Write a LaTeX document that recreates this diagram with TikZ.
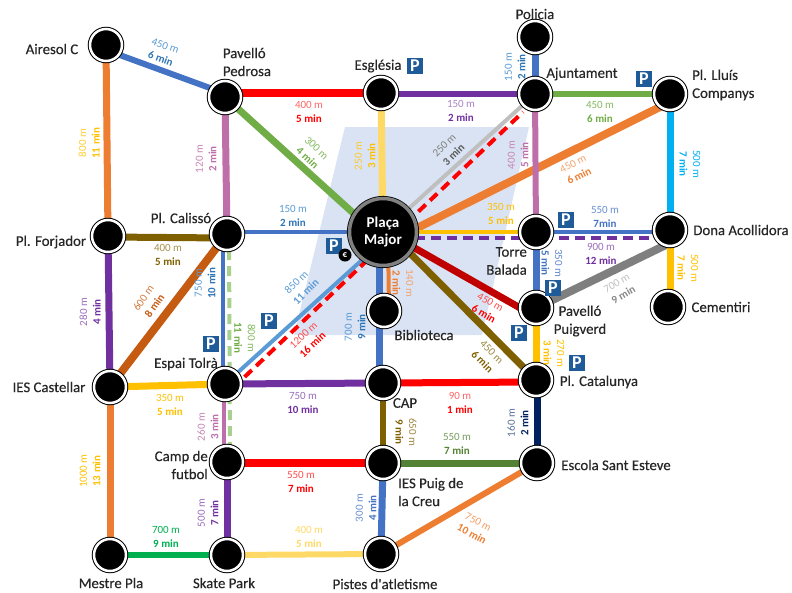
\documentclass[tikz,border=0pt]{standalone}
\usepackage{fontspec}
\setmainfont{Carlito}
\newfontfamily\stnfont{Carlito}[FakeBold=0.35]
\usetikzlibrary{backgrounds}
\definecolor{cblue}{HTML}{4472C4}
\definecolor{cmid}{HTML}{2E75B6}
\definecolor{csky}{HTML}{5B9BD5}
\definecolor{corange}{HTML}{ED7D31}
\definecolor{cdorange}{HTML}{C55A11}
\definecolor{cgreen}{HTML}{70AD47}
\definecolor{cdgreen}{HTML}{548235}
\definecolor{clgreen}{HTML}{A9D18E}
\definecolor{cvivid}{HTML}{00B050}
\definecolor{cpurple}{HTML}{7030A0}
\definecolor{cpink}{HTML}{BE6FA9}
\definecolor{cgold}{HTML}{FFC000}
\definecolor{cpale}{HTML}{FFD966}
\definecolor{cbrown}{HTML}{7F6000}
\definecolor{cdred}{HTML}{C00000}
\definecolor{cnavy}{HTML}{002060}
\definecolor{ccyan}{HTML}{00B0F0}
\definecolor{cgrey}{HTML}{7F7F7F}
\definecolor{clgrey}{HTML}{BFBFBF}
\definecolor{cdgrey}{HTML}{595959}
\definecolor{cquad}{HTML}{DAE3F3}
\definecolor{cpark}{HTML}{1F5A99}
\definecolor{ctext}{HTML}{262626}
\tikzset{
  stn/.style={circle,draw=black,fill=black,line width=1pt,double=white,double distance=2.5pt,minimum size=32pt,inner sep=0pt},
  hub/.style={circle,draw=black,fill=black,line width=0.8pt,double=gray,double distance=3.5pt,minimum size=67pt,inner sep=0pt,text=white,align=center,font=\fontsize{15}{17.5}\selectfont\bfseries},
  stnname/.style={text=ctext,inner sep=0pt,font=\stnfont\fontsize{14.8}{18}\selectfont},
  dlab/.style={inner sep=0pt,align=center,font=\fontsize{11}{13.5}\selectfont},
  parkbox/.style={fill=cpark,text=white,minimum size=16.5pt,inner sep=0pt,font=\fontsize{18}{18}\selectfont\bfseries},
  euro/.style={circle,fill=black,text=white,minimum size=13pt,inner sep=0pt,font=\fontsize{9}{9}\selectfont\bfseries},
  ln/.style={line width=#1},
  dashline/.style={line width=4pt,dash pattern=on 10pt off 6pt}
}
\newcommand{\dl}[7]{\node[dlab,rotate=#3,text=#4] (#1) at (#2) {{\color{#5}#6}\\\textbf{#7}};}
\newcommand{\pk}[2]{\node[parkbox] (#1) at (#2) {P};}
\begin{document}
\begin{tikzpicture}[x=1pt,y=-1pt]
\useasboundingbox (0,0) rectangle (792,592);
% stations
\node[stn] (airesol) at (106,45) {};
\node[stn] (pedrosa) at (225,97) {};
\node[stn] (esglesia) at (381,93) {};
\node[stn] (ajunt) at (535,94) {};
\node[stn] (policia) at (535,37) {};
\node[stn] (lluis) at (670,94) {};
\node[stn] (calisso) at (227,234) {};
\node[stn] (forjador) at (108,236) {};
\node[stn] (torre) at (536,232) {};
\node[stn] (dona) at (670,230) {};
\node[stn] (puigverd) at (536,308) {};
\node[stn] (cementiri) at (668,307) {};
\node[stn] (biblio) at (384,311) {};
\node[stn] (espai) at (225,384) {};
\node[stn] (castellar) at (110,387) {};
\node[stn] (cap) at (383,383) {};
\node[stn] (catalunya) at (536,380) {};
\node[stn] (camp) at (227,462) {};
\node[stn] (puig) at (383,463) {};
\node[stn] (escola) at (537,463) {};
\node[stn] (mestre) at (110,555) {};
\node[stn] (skate) at (227,555) {};
\node[stn] (pistes) at (381,554) {};
\node[hub] (major) at (383,232) {Plaça\\Major};
% connectors
\begin{scope}[on background layer]
\fill[cquad] (345,127) -- (529,127) -- (482,335) -- (294,335) -- cycle;
\draw[ln=6pt,cblue] ([yshift=-5pt]airesol.center) -- ([yshift=3.5pt]pedrosa.center);
\draw[ln=7pt,corange] (airesol) -- (forjador);
\draw[ln=8pt,red] (pedrosa.center |- esglesia.center) -- (esglesia.center);
\draw[ln=6pt,cpurple] (esglesia.center |- ajunt.center) -- (ajunt.center);
\draw[ln=6pt,cgreen] (ajunt) -- (lluis);
\draw[ln=7pt,cblue] (policia) -- (ajunt);
\draw[ln=7pt,cpink] (pedrosa) -- (calisso);
\draw[ln=7pt,cgreen] (pedrosa.center) -- ([yshift=-8pt]major.center);
\draw[ln=7pt,cpale] (esglesia) -- (major);
\draw[ln=4pt,clgrey] (ajunt) -- (major);
\draw[ln=8pt,corange] ([yshift=-8pt]lluis.center) -- ([yshift=-13pt]major.center);
\draw[ln=6pt,cpink] (ajunt) -- (torre);
\draw[ln=7pt,ccyan] (lluis) -- (dona);
\draw[ln=4pt,cgold] (major) -- (torre);
\draw[ln=4pt,cblue] (torre.center) -- (dona.center |- torre.center);
\draw[dashline,cpurple] ([yshift=-6pt]major.center) -- ([yshift=-8pt]dona.center);
\draw[ln=8pt,cgrey] ([yshift=-13pt]dona.center) -- (puigverd.center);
\draw[ln=7pt,cgold] (dona.center) -- (dona.center |- cementiri.center);
\draw[ln=7pt,cblue] (torre) -- (puigverd);
\draw[ln=7pt,cdred] ([yshift=2pt]major.center) -- ([yshift=-9pt]puigverd.center);
\draw[ln=7pt,cbrown] ([yshift=6pt]major.center) -- (catalunya.center);
\draw[ln=7pt,cgold] (puigverd) -- (catalunya);
\draw[ln=7pt,cnavy] (catalunya.center -| escola.center) -- (escola.center);
\draw[ln=7pt,cbrown] ([yshift=-1pt]forjador.center) -- ([yshift=-4pt]calisso.center);
\draw[ln=4pt,cblue] (calisso.center |- major.center) -- (major.center);
\draw[ln=8pt,cdorange] (calisso) -- (castellar);
\draw[ln=7pt,cpurple] (forjador) -- (castellar);
\draw[ln=4pt,cblue] ([xshift=-4pt]calisso.center) -- ([xshift=-2pt]espai.center);
\draw[ln=4pt,cpink] ([xshift=-1pt]espai.center) -- ([xshift=-3pt]camp.center);
\draw[ln=4pt,csky] (espai.center) -- ([yshift=-9pt]major.center);
\draw[ln=7pt,cgold] (castellar) -- (espai);
\draw[ln=7pt,corange] (castellar) -- (mestre);
\draw[ln=7pt,cpurple] (espai) -- (cap);
\draw[ln=7pt,red] (cap.center) -- ([yshift=-2pt]catalunya.center);
\draw[ln=6pt,cbrown] (cap) -- (puig);
\draw[ln=8pt,red] (camp.center |- puig.center) -- (puig.center);
\draw[ln=7pt,cdgreen] (puig.center |- escola.center) -- (escola.center);
\draw[ln=7pt,cpurple] (camp) -- (skate);
\draw[ln=7pt,cblue] (puig) -- (pistes);
\draw[ln=7pt,cblue] ([xshift=-4pt]major.center) -- ([xshift=-4pt]cap.center);
\draw[ln=4pt,corange] ([xshift=5pt]major.center) -- ([xshift=5pt]biblio.center);
\draw[ln=6pt,cvivid] (mestre) -- (skate);
\draw[ln=6pt,cpale] (skate) -- (pistes);
\draw[ln=6pt,corange] (pistes) -- (escola);
\draw[dashline,clgreen] ([xshift=2pt]calisso.center) -- ([xshift=3pt]camp.center);
\draw[dashline,red] ([shift={(8pt,-4pt)}]espai.center) -- ([shift={(-12pt,-18pt)}]ajunt.center);
\end{scope}
% station names
\node[stnname] (nairesol) at (52,49) {Airesol C};
\node[stnname,align=left] (npedrosa) at (247,62) {Pavelló\\Pedrosa};
\node[stnname] (nesglesia) at (378,66) {Església};
\node[stnname] (npolicia) at (535,14) {Policia};
\node[stnname] (najunt) at (582,74) {Ajuntament};
\node[stnname,align=left,anchor=west] (nlluis) at (692,85) {Pl. Lluís\\Companys};
\node[stnname] (ndona) at (741,230) {Dona Acollidora};
\node[stnname,align=right,anchor=east] (ntorre) at (527,261) {Torre\\Balada};
\node[stnname,align=center] (npuigverd) at (580,321) {Pavelló\\Puigverd};
\node[stnname] (ncementiri) at (721,307) {Cementiri};
\node[stnname] (ncatalunya) at (599,382) {Pl. Catalunya};
\node[stnname] (nescola) at (616,465) {Escola Sant Esteve};
\node[stnname,align=left,anchor=west] (npuig) at (398,492) {IES Puig de\\la Creu};
\node[stnname] (ncap) at (405,403) {CAP};
\node[stnname] (nbiblio) at (424,335) {Biblioteca};
\node[stnname] (ncalisso) at (181,218) {Pl. Calissó};
\node[stnname] (nforjador) at (51,242) {Pl. Forjador};
\node[stnname] (ncastellar) at (49,387) {IES Castellar};
\node[stnname] (nespai) at (186,364) {Espai Tolrà};
\node[stnname,align=right,anchor=east] (ncamp) at (208,465) {Camp de\\futbol};
\node[stnname] (nmestre) at (111,583) {Mestre Pla};
\node[stnname] (nskate) at (224,583) {Skate Park};
\node[stnname] (npistes) at (385,584) {Pistes d'atletisme};
% parking
\pk{p1}{415,66}
\pk{p2}{644,79}
\pk{p3}{566,220}
\pk{p4}{553,288}
\pk{p5}{519,333}
\pk{p6}{577,363}
\pk{p7}{334,246}
\pk{p8}{211,344}
\pk{p9}{269,321}
\node[euro] (peuro) at (345,255) {€};
% distance labels
\dl{d1}{163,52}{-20}{cmid}{csky}{450 m}{6 min}
\dl{d2}{89,143}{90}{cgold}{cgold!80}{800 m}{11 min}
\dl{d3}{206,159}{90}{cpink}{cpink!85}{120 m}{2 min}
\dl{d4}{309,112}{0}{red}{red!60}{400 m}{5 min}
\dl{d5}{312,153}{-43}{cgreen}{cgreen!85}{300 m}{4 min}
\dl{d6}{365,156}{90}{cgold}{cgold!85}{250 m}{3 min}
\dl{d7}{293,216}{0}{cmid}{csky}{150 m}{2 min}
\dl{d8}{168,255}{0}{cbrown}{cbrown!70}{400 m}{5 min}
\dl{d9}{149,302}{55}{cdorange}{cdorange!80}{600 m}{8 min}
\dl{d10}{205,283}{90}{cmid}{csky}{750 m}{10 min}
\dl{d11}{90,312}{90}{cpurple}{cpurple!70}{280 m}{4 min}
\dl{d12}{301,287}{45}{csky}{csky}{850 m}{11 min}
\dl{d13}{308,340}{43}{red}{red!70}{1200 m}{16 min}
\dl{d14}{245,338}{-90}{cgreen}{cgreen!85}{800 m}{11 min}
\dl{d15}{355,327}{90}{cmid}{csky}{700 m}{9 min}
\dl{d16}{403,283}{-90}{corange}{corange!70}{140 m}{2 min}
\dl{d17}{449,150}{45}{cdgrey}{cgrey}{250 m}{3 min}
\dl{d18}{518,155}{90}{cpink}{cpink!85}{400 m}{5 min}
\dl{d19}{576,170}{27}{corange}{corange!70}{450 m}{6 min}
\dl{d20}{515,67}{90}{cmid}{csky}{150 m}{2 min}
\dl{d21}{461,111}{0}{cpurple}{cpurple!60}{150 m}{2 min}
\dl{d22}{600,112}{0}{cgreen}{cgreen!85}{450 m}{6 min}
\dl{d23}{690,164}{-90}{ccyan}{ccyan}{500 m}{7 min}
\dl{d24}{501,214}{0}{cgold}{cgold}{350 m}{5 min}
\dl{d25}{605,217}{0}{cblue}{cblue!80}{550 m}{7min}
\dl{d26}{601,254}{0}{cpurple}{cpurple!70}{900 m}{12 min}
\dl{d27}{552,263}{-90}{cblue}{cblue!85}{350 m}{5 min}
\dl{d28}{620,289}{30}{clgrey!70!black}{clgrey}{700 m}{9 min}
\dl{d29}{688,268}{-90}{cgold}{cgold}{500 m}{7 min}
\dl{d30}{487,308}{-30}{red}{red!70}{450 m}{6 min}
\dl{d31}{487,357}{-45}{cbrown}{cbrown!75}{450 m}{6 min}
\dl{d32}{554,353}{-90}{cgold}{cgold}{270 m}{3 min}
\dl{d33}{460,403}{0}{red}{red!60}{90 m}{1 min}
\dl{d34}{518,423}{90}{cnavy}{cnavy!65}{160 m}{2 min}
\dl{d35}{406,432}{-90}{cbrown}{cbrown!75}{650 m}{9 min}
\dl{d36}{457,444}{0}{cdgreen}{cdgreen!80}{550 m}{7 min}
\dl{d37}{475,528}{-28}{corange}{corange!75}{750 m}{10 min}
\dl{d38}{303,403}{0}{cpurple}{cpurple!70}{750 m}{10 min}
\dl{d39}{170,405}{0}{cgold}{cgold}{350 m}{5 min}
\dl{d40}{208,427}{90}{cpink}{cpink!85}{260 m}{3 min}
\dl{d41}{301,482}{0}{red}{red!70}{550 m}{7 min}
\dl{d42}{90,471}{90}{cgold}{cgold}{1000 m}{13 min}
\dl{d43}{208,513}{90}{cpurple}{cpurple!70}{500 m}{7 min}
\dl{d44}{166,537}{0}{cvivid}{cvivid}{700 m}{9 min}
\dl{d45}{309,537}{0}{cpale}{cpale}{400 m}{5 min}
\dl{d46}{366,508}{90}{cblue}{cblue!80}{300 m}{4 min}
\end{tikzpicture}
\end{document}
